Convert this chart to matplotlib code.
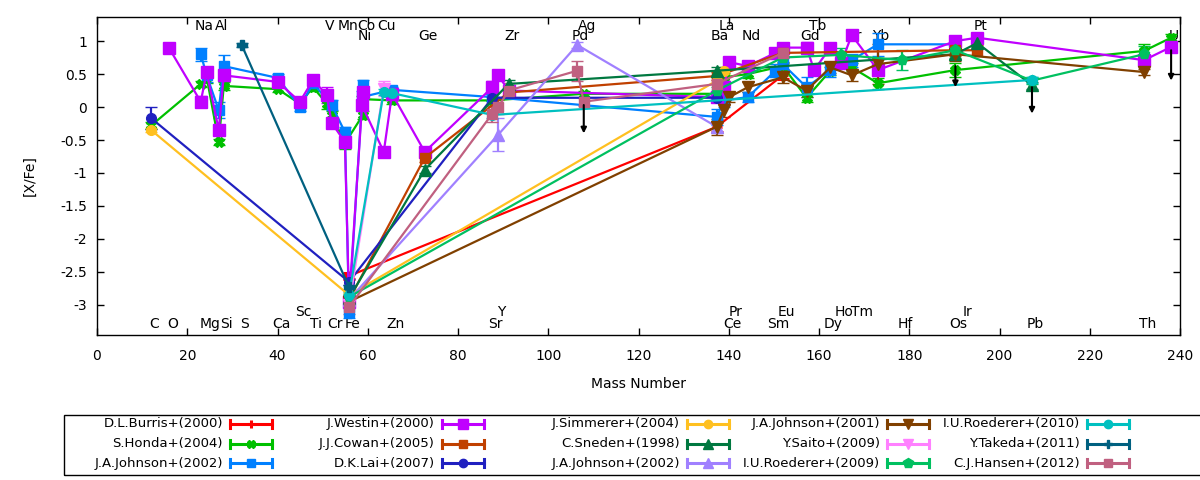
"""
[X/Fe] abundance patterns vs mass number for metal-poor stars (gnuplot-style look).
"""
import matplotlib
matplotlib.use('Agg')
import matplotlib.pyplot as plt
from matplotlib.lines import Line2D
from matplotlib.patches import Rectangle
from matplotlib.ticker import MultipleLocator, FuncFormatter

plt.rcParams['font.family'] = ['DejaVu Sans']
plt.rcParams['font.size'] = 10
plt.rcParams['axes.unicode_minus'] = False

# atomic mass of each element (x position)
MASS = {
    'C': 12.01, 'O': 16.00, 'Na': 22.99, 'Mg': 24.31, 'Al': 26.98, 'Si': 28.09,
    'S': 32.06, 'Ca': 40.08, 'Sc': 44.96, 'Ti': 47.87, 'V': 50.94, 'Cr': 52.00,
    'Mn': 54.94, 'Fe': 55.85, 'Co': 58.93, 'Ni': 58.69, 'Cu': 63.55, 'Zn': 65.38,
    'Ge': 72.63, 'Sr': 87.62, 'Y': 88.91, 'Zr': 91.22, 'Pd': 106.42, 'Ag': 107.87,
    'Ba': 137.33, 'La': 138.91, 'Ce': 140.12, 'Pr': 140.91, 'Nd': 144.24,
    'Sm': 150.36, 'Eu': 151.96, 'Gd': 157.25, 'Tb': 158.93, 'Dy': 162.50,
    'Ho': 164.93, 'Er': 167.26, 'Tm': 168.93, 'Yb': 173.05, 'Hf': 178.49,
    'Os': 190.23, 'Ir': 192.22, 'Pt': 195.08, 'Pb': 207.2, 'Th': 232.04, 'U': 238.03,
}

# element names printed along the top and bottom of the frame
top_hi = ['Na', 'Al', 'V', 'Mn', 'Co', 'Cu', 'Ag', 'La', 'Tb', 'Pt']
top_lo = ['Ni', 'Ge', 'Zr', 'Pd', 'Ba', 'Nd', 'Gd', 'Er', 'Yb', 'U']
bot_hi = ['Sc', 'Y', 'Pr', 'Eu', 'Ho', 'Tm', 'Ir']
bot_lo = ['C', 'O', 'Mg', 'Si', 'S', 'Ca', 'Ti', 'Cr', 'Fe', 'Zn', 'Sr', 'Ce',
          'Sm', 'Dy', 'Hf', 'Os', 'Pb', 'Th']

# --- data per paper ---
burris_el = ['Fe', 'Ba', 'Eu']
burris_val = [-2.56, -0.30, 0.48]
burris_err = [0.04, 0.08, 0.05]

honda_el = ['C', 'Na', 'Mg', 'Al', 'Si', 'Ca', 'Sc', 'Ti', 'V', 'Cr', 'Mn', 'Co',
            'Ni', 'Zn', 'Sr', 'Ag', 'Ba', 'La', 'Nd', 'Eu', 'Gd', 'Dy', 'Er', 'Yb',
            'Os', 'Th', 'U']
honda_val = [-0.28, 0.35, 0.45, -0.53, 0.32, 0.27, 0.05, 0.30, 0.05, -0.12, -0.55,
             -0.12, 0.12, 0.10, 0.10, 0.20, 0.20, 0.45, 0.50, 0.62, 0.14, 0.55,
             0.60, 0.36, 0.56, 0.85, 1.05]
honda_err = [0.05, 0.05, 0.08, 0.05, 0.06, 0.05, 0.05, 0.06, 0.08, 0.06, 0.08,
             0.06, 0.05, 0.05, 0.05, 0.05, 0.05, 0.06, 0.06, 0.06, 0.06, 0.06,
             0.06, 0.08, 0.10, 0.10, 0.06]

johnson02_el = ['Na', 'Mg', 'Al', 'Si', 'Ca', 'Sc', 'Ti', 'Cr', 'Mn', 'Fe', 'Co',
                'Ni', 'Zn', 'Sr', 'Ba', 'La', 'Nd', 'Sm', 'Eu', 'Gd', 'Dy', 'Er',
                'Yb', 'Os']
johnson02_val = [0.80, 0.48, -0.05, 0.62, 0.44, 0.00, 0.36, 0.03, -0.38, -3.10,
                 0.33, 0.15, 0.26, 0.15, -0.15, 0.10, 0.15, 0.55, 0.65, 0.30, 0.56,
                 0.71, 0.95, 0.95]
johnson02_err = [0.10, 0.10, 0.12, 0.17, 0.06, 0.06, 0.06, 0.08, 0.08, 0.10, 0.08,
                 0.10, 0.05, 0.06, 0.12, 0.10, 0.08, 0.10, 0.10, 0.15, 0.10, 0.10,
                 0.17, 0.06]

westin_el = ['O', 'Na', 'Mg', 'Al', 'Si', 'Ca', 'Sc', 'Ti', 'V', 'Cr', 'Mn', 'Fe',
             'Co', 'Ni', 'Cu', 'Zn', 'Ge', 'Sr', 'Y', 'Zr', 'Ba', 'La', 'Ce', 'Nd',
             'Sm', 'Eu', 'Gd', 'Tb', 'Dy', 'Ho', 'Er', 'Yb', 'Os', 'Pt', 'Th', 'U']
westin_val = [0.89, 0.08, 0.53, -0.35, 0.48, 0.38, 0.08, 0.41, 0.18, -0.24, -0.53,
              -2.95, 0.23, 0.03, -0.68, 0.20, -0.68, 0.30, 0.48, 0.25, 0.15, 0.30,
              0.68, 0.62, 0.82, 0.90, 0.90, 0.56, 0.90, 0.67, 1.09, 0.56, 1.00,
              1.05, 0.71, 0.91]
westin_err = [0.06, 0.08, 0.06, 0.08, 0.08, 0.06, 0.06, 0.06, 0.12, 0.08, 0.08,
              0.08, 0.08, 0.08, 0.06, 0.06, 0.06, 0.10, 0.05, 0.06, 0.06, 0.08,
              0.06, 0.08, 0.08, 0.06, 0.08, 0.08, 0.06, 0.08, 0.06, 0.08, 0.06,
              0.06, 0.06, 0.06]

cowan_el = ['Fe', 'Ge', 'Zr', 'Ba', 'Eu', 'Os', 'Pt']
cowan_val = [-2.92, -0.77, 0.22, 0.47, 0.82, 0.86, 0.86]
cowan_err = [0.05, 0.06, 0.06, 0.06, 0.06, 0.08, 0.08]

lai_el = ['C', 'Fe', 'Sr', 'Ba']
lai_val = [-0.17, -2.65, 0.14, 0.14]
lai_err = [0.17, 0.05, 0.05, 0.05]

simmerer_el = ['C', 'Fe', 'Ba', 'La']
simmerer_val = [-0.35, -2.85, 0.40, 0.55]
simmerer_err = [0.03, 0.03, 0.05, 0.05]

sneden_el = ['Fe', 'Ge', 'Zr', 'Ba', 'Os', 'Pt', 'Pb']
sneden_val = [-2.90, -0.95, 0.35, 0.55, 0.80, 0.97, 0.33]
sneden_err = [0.05, 0.05, 0.06, 0.06, 0.08, 0.06, 0.05]

johnson02b_el = ['Fe', 'Y', 'Pd', 'Ba']
johnson02b_val = [-2.92, -0.42, 0.94, -0.30]
johnson02b_err = [0.05, 0.25, 0.04, 0.08]

johnson01_el = ['Fe', 'Ba', 'La', 'Ce', 'Nd', 'Eu', 'Gd', 'Dy', 'Er', 'Yb', 'Os', 'Th']
johnson01_val = [-2.95, -0.30, -0.05, 0.15, 0.30, 0.45, 0.25, 0.60, 0.48, 0.65,
                 0.80, 0.53]
johnson01_err = [0.05, 0.12, 0.10, 0.08, 0.08, 0.08, 0.10, 0.08, 0.08, 0.30, 0.10,
                 0.05]

saito_el = ['Fe', 'Cu']
saito_val = [-3.00, 0.28]
saito_err = [0.05, 0.12]

roederer09_el = ['Fe', 'Ba', 'Eu', 'Ho', 'Hf', 'Os', 'Pb', 'Th']
roederer09_val = [-2.88, 0.25, 0.75, 0.79, 0.71, 0.86, 0.40, 0.80]
roederer09_err = [0.05, 0.06, 0.08, 0.10, 0.15, 0.12, 0.05, 0.12]

roederer10_el = ['Fe', 'Cu', 'Zn', 'Sr', 'Pb']
roederer10_val = [-2.85, 0.23, 0.21, -0.12, 0.41]
roederer10_err = [0.05, 0.05, 0.04, 0.04, 0.04]

takeda_el = ['S', 'Fe']
takeda_val = [0.94, -2.73]
takeda_err = [0.03, 0.04]

hansen_el = ['Fe', 'Sr', 'Y', 'Zr', 'Pd', 'Ag', 'Ba', 'Eu']
hansen_val = [-3.03, -0.10, 0.00, 0.25, 0.55, 0.08, 0.35, 0.82]
hansen_err = [0.10, 0.12, 0.10, 0.12, 0.15, 0.06, 0.10, 0.15]

# upper limits (black arrows)
limit_el = ['Ag', 'Os', 'Pb', 'U']
limit_top = [0.03, 0.62, 0.30, 0.86]
limit_bottom = [-0.40, 0.30, -0.10, 0.40]

SERIES = [
    ('D.L.Burris+(2000)', '#FF0000', '+', 7, burris_el, burris_val, burris_err),
    ('S.Honda+(2004)', '#00C000', 'X', 7, honda_el, honda_val, honda_err),
    ('J.A.Johnson+(2002)', '#0080FF', 's', 7, johnson02_el, johnson02_val, johnson02_err),
    ('J.Westin+(2000)', '#C000FF', 's', 8, westin_el, westin_val, westin_err),
    ('J.J.Cowan+(2005)', '#C04000', 's', 7, cowan_el, cowan_val, cowan_err),
    ('D.K.Lai+(2007)', '#2020C0', 'o', 7, lai_el, lai_val, lai_err),
    ('J.Simmerer+(2004)', '#FFC020', 'o', 7, simmerer_el, simmerer_val, simmerer_err),
    ('C.Sneden+(1998)', '#007840', '^', 8, sneden_el, sneden_val, sneden_err),
    ('J.A.Johnson+(2002)', '#A080FF', '^', 8, johnson02b_el, johnson02b_val, johnson02b_err),
    ('J.A.Johnson+(2001)', '#804000', 'v', 8, johnson01_el, johnson01_val, johnson01_err),
    ('Y.Saito+(2009)', '#FF80FF', 'v', 8, saito_el, saito_val, saito_err),
    ('I.U.Roederer+(2009)', '#00C060', 'p', 8, roederer09_el, roederer09_val, roederer09_err),
    ('I.U.Roederer+(2010)', '#00C0C0', 'o', 7, roederer10_el, roederer10_val, roederer10_err),
    ('Y.Takeda+(2011)', '#006080', 'P', 7, takeda_el, takeda_val, takeda_err),
    ('C.J.Hansen+(2012)', '#C06080', 's', 7, hansen_el, hansen_val, hansen_err),
]


def px_x(p):
    return p / 1200.0


def px_y(p):
    return 1.0 - p / 480.0


def main():
    fig = plt.figure(figsize=(12, 4.8), dpi=100)
    ax = fig.add_axes([px_x(97), px_y(335), (1180 - 97) / 1200.0, (335 - 17) / 480.0])

    # element labels (drawn under the data like gnuplot labels)
    for names, y in ((top_hi, 1.227), (top_lo, 1.076), (bot_hi, -3.106), (bot_lo, -3.288)):
        for n in names:
            ax.text(MASS[n] + 0.7, y, n, ha='center', va='center', zorder=0.5)

    for label, color, marker, ms, el, val, err in SERIES:
        x = [MASS[e] for e in el]
        mew = 2.2 if marker in ('+', 'x') else 1.0
        ax.errorbar(x, val, yerr=err, color=color, marker=marker, ms=ms, mew=mew,
                    lw=1.6, elinewidth=1.6, capsize=4, capthick=1.6, zorder=2)

    for e, top, bot in zip(limit_el, limit_top, limit_bottom):
        ax.annotate('', xy=(MASS[e], bot), xytext=(MASS[e], top),
                    arrowprops=dict(arrowstyle='-|>', color='black', lw=1.5,
                                    mutation_scale=8, shrinkA=0, shrinkB=0),
                    zorder=3)

    ax.set_xlim(0, 240)
    ax.set_ylim(-3.455, 1.364)
    ax.xaxis.set_major_locator(MultipleLocator(20))
    ax.yaxis.set_major_locator(MultipleLocator(0.5))
    ax.yaxis.set_major_formatter(FuncFormatter(lambda v, p: '%g' % v))
    ax.tick_params(direction='in', length=5, width=1, top=True, right=True)
    ax.tick_params(axis='x', pad=10)
    ax.tick_params(axis='y', pad=7)
    for s in ax.spines.values():
        s.set_linewidth(1.0)

    ax.set_xlabel('Mass Number')
    ax.xaxis.set_label_coords(0.5, -0.154)
    ax.xaxis.label.set_va('center')
    ax.set_ylabel('[X/Fe]')
    ax.yaxis.set_label_coords(-0.062, 0.5)
    ax.yaxis.label.set_va('center')

    # gnuplot-like key: right aligned text, sample to its right
    fig.add_artist(Rectangle((px_x(64), px_y(475)), px_x(1210 - 64), (475 - 415) / 480.0,
                             transform=fig.transFigure, fill=False, lw=1.0,
                             edgecolor='black', clip_on=False))
    col_text_end = [223, 435, 680, 880, 1080]
    row_y = [424, 444, 463]
    for i, (label, color, marker, ms, el, val, err) in enumerate(SERIES):
        col, row = i // 3, i % 3
        xe = col_text_end[col]
        y = row_y[row]
        fig.text(px_x(xe), px_y(y), label, ha='right', va='center', fontsize=9.5)
        x0, x1 = xe + 7, xe + 49
        fig.add_artist(Line2D([px_x(x0), px_x(x1)], [px_y(y), px_y(y)],
                              transform=fig.transFigure, color=color, lw=2.2))
        for xc in (x0, x1):
            fig.add_artist(Line2D([px_x(xc), px_x(xc)], [px_y(y - 4), px_y(y + 4)],
                                  transform=fig.transFigure, color=color, lw=2.2))
        mew = 2.2 if marker in ('+', 'x') else 1.0
        fig.add_artist(Line2D([px_x((x0 + x1) / 2.0)], [px_y(y)], transform=fig.transFigure,
                              color=color, marker=marker, ms=ms - 1, mew=mew, lw=0))

    plt.savefig('out.png', dpi=100)
    plt.close()


if __name__ == '__main__':
    main()
